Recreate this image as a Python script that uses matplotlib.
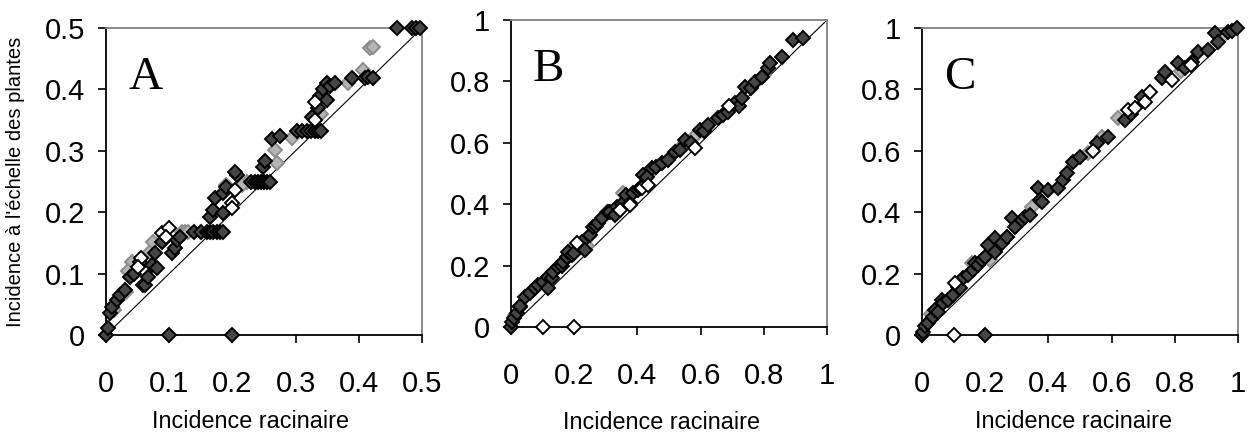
import matplotlib
matplotlib.use("Agg")
import matplotlib.pyplot as plt

plt.rcParams['font.family'] = ['Liberation Sans', 'DejaVu Sans']

# ---- data ----
# panel A
a_dark_x = [0, 0.003, 0.006, 0.01, 0.017, 0.022, 0.03, 0.038, 0.045, 0.059, 0.061, 0.067, 0.073, 0.08, 0.078,
            0.088, 0.104, 0.109, 0.112, 0.117, 0.14, 0.15, 0.16, 0.165, 0.17, 0.175, 0.18, 0.185, 0.165, 0.17,
            0.172, 0.185, 0.19, 0.185, 0.207, 0.204, 0.23, 0.235, 0.24, 0.245, 0.25, 0.255, 0.26, 0.248, 0.252,
            0.263, 0.275, 0.302, 0.31, 0.318, 0.325, 0.33, 0.335, 0.34, 0.326, 0.335, 0.338, 0.35, 0.344, 0.35,
            0.355, 0.362, 0.389, 0.41, 0.415, 0.423, 0.46, 0.484, 0.49, 0.497, 0.1, 0.2]
a_dark_y = [0, 0.012, 0.036, 0.045, 0.057, 0.065, 0.073, 0.094, 0.1, 0.081, 0.082, 0.094, 0.114, 0.109, 0.133,
            0.151, 0.133, 0.142, 0.155, 0.16, 0.167, 0.167, 0.167, 0.167, 0.167, 0.167, 0.167, 0.167, 0.192, 0.204,
            0.223, 0.231, 0.241, 0.199, 0.26, 0.265, 0.25, 0.25, 0.25, 0.25, 0.25, 0.25, 0.25, 0.274, 0.283,
            0.32, 0.324, 0.333, 0.333, 0.333, 0.333, 0.333, 0.333, 0.333, 0.355, 0.37, 0.39, 0.383, 0.4, 0.41,
            0.405, 0.41, 0.418, 0.418, 0.42, 0.418, 0.5, 0.5, 0.5, 0.5, 0, 0]
a_gray_x = [0.012, 0.031, 0.041, 0.035, 0.07, 0.075, 0.12, 0.125, 0.13, 0.19, 0.223, 0.215, 0.267, 0.294,
            0.383, 0.407, 0.418, 0.423, 0.27, 0.34]
a_gray_y = [0.04, 0.07, 0.119, 0.105, 0.135, 0.151, 0.168, 0.168, 0.167, 0.245, 0.249, 0.245, 0.301, 0.321,
            0.41, 0.432, 0.467, 0.469, 0.28, 0.36]
a_white_x = [0.054, 0.056, 0.088, 0.1, 0.095, 0.2, 0.2, 0.204, 0.33, 0.33, 0.05]
a_white_y = [0.119, 0.125, 0.166, 0.174, 0.16, 0.215, 0.207, 0.236, 0.379, 0.35, 0.11]

# panel B
b_dark_x = [0, 0.003, 0.01, 0.019, 0.028, 0.03, 0.044, 0.06, 0.076, 0.085, 0.1, 0.117, 0.117, 0.13, 0.133,
            0.149, 0.16, 0.165, 0.177, 0.18, 0.193, 0.2, 0.22, 0.225, 0.234, 0.25, 0.259, 0.27, 0.275, 0.288,
            0.307, 0.313, 0.329, 0.335, 0.35, 0.365, 0.376, 0.386, 0.402, 0.408, 0.418, 0.43,
            0.446, 0.46, 0.478, 0.497, 0.519, 0.535, 0.551, 0.57, 0.598, 0.61, 0.623, 0.655, 0.67, 0.687,
            0.709, 0.72, 0.731, 0.74, 0.76, 0.772, 0.794, 0.813, 0.82, 0.858, 0.892, 0.924]
b_dark_y = [0, 0.016, 0.03, 0.045, 0.065, 0.07, 0.098, 0.11, 0.127, 0.137, 0.147, 0.163, 0.127, 0.16, 0.179,
            0.195, 0.2, 0.212, 0.228, 0.244, 0.234, 0.24, 0.26, 0.277, 0.251, 0.3, 0.326, 0.33, 0.339, 0.355,
            0.375, 0.375, 0.365, 0.391, 0.4, 0.43, 0.404, 0.436, 0.446, 0.453, 0.495, 0.49,
            0.518, 0.52, 0.534, 0.544, 0.57, 0.577, 0.609, 0.6, 0.642, 0.64, 0.658, 0.681, 0.69, 0.7,
            0.73, 0.72, 0.746, 0.782, 0.78, 0.798, 0.814, 0.844, 0.86, 0.879, 0.935, 0.941]
b_gray_x = [0.012, 0.07, 0.2, 0.24, 0.304, 0.354, 0.45, 0.54, 0.58, 0.62, 0.7, 0.8]
b_gray_y = [0.04, 0.12, 0.26, 0.265, 0.375, 0.436, 0.51, 0.59, 0.62, 0.65, 0.72, 0.82]
b_white_x = [0.1, 0.2, 0.209, 0.345, 0.376, 0.415, 0.434, 0.582, 0.69]
b_white_y = [0, 0, 0.274, 0.381, 0.397, 0.453, 0.462, 0.583, 0.72]

# panel C
c_dark_x = [0, 0.003, 0.01, 0.019, 0.035, 0.041, 0.05, 0.063, 0.066, 0.082, 0.098, 0.114, 0.12, 0.13, 0.146,
            0.161, 0.168, 0.177, 0.19, 0.199, 0.209, 0.231, 0.231, 0.253, 0.269, 0.285, 0.294, 0.316, 0.326,
            0.342, 0.367, 0.373, 0.38, 0.399, 0.43,
            0.446, 0.459, 0.478, 0.5, 0.554, 0.589, 0.642, 0.66, 0.696, 0.759, 0.769, 0.81, 0.832, 0.854,
            0.873, 0.905, 0.927, 0.937, 0.968, 0.98, 0.997, 0.2]
c_dark_y = [0, 0.01, 0.03, 0.039, 0.059, 0.081, 0.075, 0.114, 0.104, 0.114, 0.13, 0.156, 0.153, 0.186, 0.195,
            0.212, 0.235, 0.228, 0.244, 0.254, 0.293, 0.27, 0.316, 0.3, 0.319, 0.381, 0.352, 0.375, 0.384,
            0.391, 0.479, 0.44, 0.433, 0.472, 0.479,
            0.505, 0.528, 0.564, 0.58, 0.625, 0.645, 0.7, 0.72, 0.775, 0.837, 0.857, 0.886, 0.87, 0.889,
            0.922, 0.928, 0.984, 0.954, 0.987, 0.99, 1.0, 0]
c_gray_x = [0.03, 0.158, 0.215, 0.27, 0.348, 0.525, 0.57, 0.62, 0.82, 0.95]
c_gray_y = [0.07, 0.234, 0.244, 0.32, 0.417, 0.593, 0.645, 0.707, 0.86, 0.97]
c_white_x = [0.1, 0.104, 0.652, 0.674, 0.706, 0.722, 0.791, 0.85, 0.54]
c_white_y = [0, 0.169, 0.733, 0.739, 0.759, 0.792, 0.831, 0.88, 0.6]

ticks_a = [0, 0.1, 0.2, 0.3, 0.4, 0.5]
labels_a = ['0', '0.1', '0.2', '0.3', '0.4', '0.5']
ticks_bc = [0, 0.2, 0.4, 0.6, 0.8, 1]
labels_bc = ['0', '0.2', '0.4', '0.6', '0.8', '1']

# letter, axis max, ticks, tick labels, axes box, x-label centre, x-label pad, series
panels = [
    ('A', 0.5, ticks_a, labels_a, [0.0848, 0.2334, 0.2528, 0.7025], 0.456, 9,
     (a_gray_x, a_gray_y), (a_white_x, a_white_y), (a_dark_x, a_dark_y)),
    ('B', 1.0, ticks_bc, labels_bc, [0.4088, 0.2517, 0.2528, 0.7025], 0.475, 15,
     (b_gray_x, b_gray_y), (b_white_x, b_white_y), (b_dark_x, b_dark_y)),
    ('C', 1.0, ticks_bc, labels_bc, [0.7376, 0.2334, 0.2528, 0.7025], 0.478, 9,
     (c_gray_x, c_gray_y), (c_white_x, c_white_y), (c_dark_x, c_dark_y)),
]

fig = plt.figure(figsize=(12.5, 4.37), dpi=100)

for letter, vmax, ticks, labels, pos, xlab_x, lpad, gray, white, dark in panels:
    ax = fig.add_axes(pos)
    ax.plot([0, vmax], [0, vmax], color='black', lw=0.8, zorder=1)
    ax.plot(gray[0], gray[1], 'D', ms=7, mfc='#b4b4b4', mec='#8c8c8c', mew=1.4, ls='none', clip_on=False, zorder=2)
    ax.plot(dark[0], dark[1], 'D', ms=7, mfc='#454545', mec='black', mew=1.4, ls='none', clip_on=False, zorder=3)
    ax.plot(white[0], white[1], 'D', ms=7, mfc='white', mec='black', mew=1.4, ls='none', clip_on=False, zorder=4)
    ax.set_xlim(0, vmax)
    ax.set_ylim(0, vmax)
    ax.set_xticks(ticks)
    ax.set_xticklabels(labels, fontsize=21)
    ax.set_yticks(ticks)
    ax.set_yticklabels(labels, fontsize=21)
    ax.tick_params(direction='out', length=6, width=1.2)
    ax.tick_params(axis='x', pad=19)
    ax.tick_params(axis='y', pad=9)
    for s in ['left', 'bottom']:
        ax.spines[s].set_color('black')
        ax.spines[s].set_linewidth(1.3)
    for s in ['top', 'right']:
        ax.spines[s].set_color('#808080')
        ax.spines[s].set_linewidth(1.3)
    ax.set_xlabel('Incidence racinaire', fontsize=16.8, labelpad=lpad)
    ax.xaxis.label.set_x(xlab_x)
    ax.text(0.07, 0.8, letter, transform=ax.transAxes, fontsize=34,
            family='Liberation Serif', va='baseline', ha='left')
    if letter == 'A':
        ax.set_ylabel("Incidence à l'échelle des plantes", fontsize=14.5, labelpad=14)

fig.savefig('out.png', dpi=100)
